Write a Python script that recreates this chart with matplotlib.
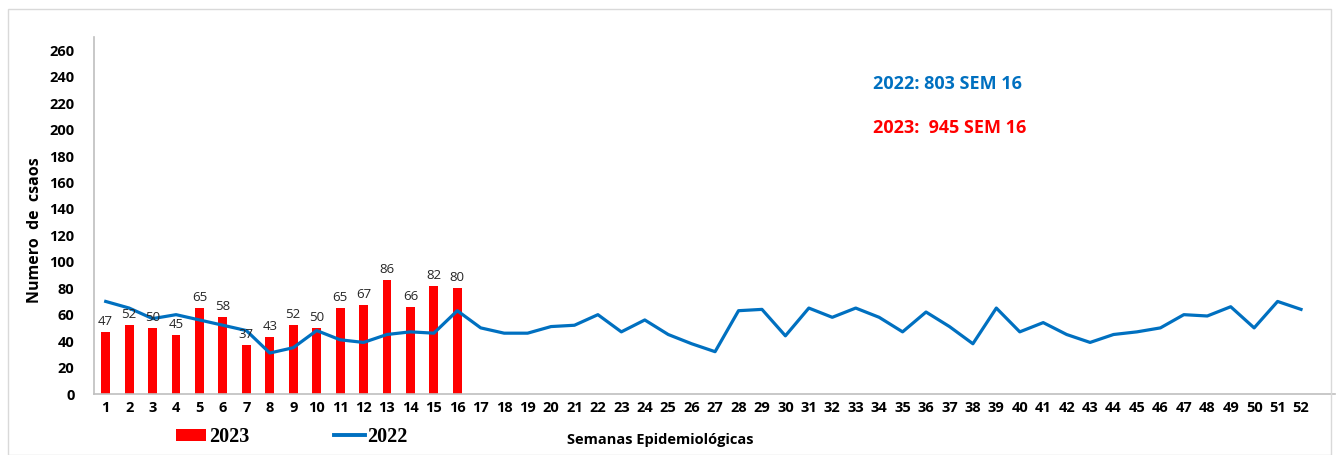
import matplotlib
matplotlib.use("Agg")
import matplotlib.pyplot as plt
from matplotlib.patches import Rectangle, Patch
from matplotlib.lines import Line2D

plt.rcParams['font.family'] = ['Open Sans', 'DejaVu Sans']

weeks = list(range(1, 53))
cases_2023 = [47, 52, 50, 45, 65, 58, 37, 43, 52, 50, 65, 67, 86, 66, 82, 80]
cases_2022 = [70, 65, 57, 60, 56, 52, 48, 31, 35, 48, 41, 39, 45, 47, 46, 63,
              50, 46, 46, 51, 52, 60, 47, 56, 45, 38, 32, 63, 64, 44,
              65, 58, 65, 58, 47, 62, 51, 38, 65, 47, 54, 45, 39, 45,
              47, 50, 60, 59, 66, 50, 70, 64]
y_ticks = list(range(0, 261, 20))
note_2022 = "2022: 803 SEM 16"
note_2023 = "2023:  945 SEM 16"

RED = "#FF0000"
BLUE = "#0070C0"

fig = plt.figure(figsize=(13.39, 4.55), dpi=100)
# outer frame
fig.patches.append(Rectangle((8/1339, 0), (1331-8)/1339, 1 - 9/455, transform=fig.transFigure,
                             fill=False, edgecolor="#D9D9D9", linewidth=1))
ax = fig.add_axes([94/1339, 1 - 394/455, (1335-94)/1339, (394-37)/455])

weeks_2023 = weeks[:len(cases_2023)]
ax.bar(weeks_2023, cases_2023, width=0.38, color=RED, zorder=2)
ax.plot(weeks, cases_2022, color=BLUE, linewidth=2.3, zorder=3)

for x, v in zip(weeks_2023, cases_2023):
    ax.text(x, v + 3, str(v), ha="center", va="bottom", fontsize=9.5, color="#262626", zorder=4)

ax.set_xlim(0.5, 53.45)
ax.set_ylim(0, 270)
ax.set_yticks(y_ticks)
ax.set_yticklabels([str(t) for t in y_ticks], fontweight="bold", fontsize=10.5)
ax.set_xticks(weeks)
ax.set_xticklabels([str(w) for w in weeks], fontweight="bold", fontsize=10.5)
ax.tick_params(length=0, pad=5)
ax.tick_params(axis="y", pad=14)
for s in ["top", "right"]:
    ax.spines[s].set_visible(False)
for s in ["left", "bottom"]:
    ax.spines[s].set_color("#BFBFBF")
    ax.spines[s].set_linewidth(1.2)

ax.set_ylabel("Numero  de  csaos", fontweight="bold", fontsize=11.5)
ax.yaxis.set_label_coords(-0.041, 0.46)

fig.text(660/1339, 1 - 440/455, "Semanas Epidemiológicas", ha="center", va="center",
         fontweight="bold", fontsize=10.5)

fig.text(873/1339, 1 - 84/455, note_2022, color=BLUE, fontweight="bold", fontsize=13,
         ha="left", va="center")
fig.text(873/1339, 1 - 128/455, note_2023, color=RED, fontweight="bold", fontsize=13,
         ha="left", va="center")

handles = [Patch(facecolor=RED, edgecolor="none"),
           Line2D([0], [0], color=BLUE, linewidth=2.8)]
leg = fig.legend(handles, ["2023", "2022"], loc="center", bbox_to_anchor=(292/1339, 1 - 437/455),
                 ncol=2, frameon=False, columnspacing=4.2, handlelength=1.5, handletextpad=0.15,
                 handleheight=0.6,
                 prop={"family": "Liberation Serif", "weight": "bold", "size": 14.5})

fig.savefig("out.png", dpi=100)
